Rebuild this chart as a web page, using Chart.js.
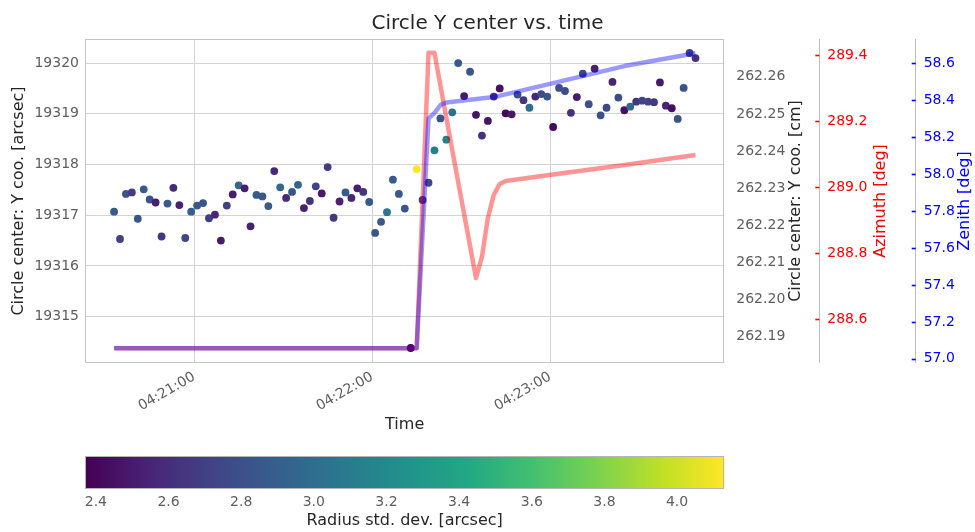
<!DOCTYPE html>
<html>
<head>
<meta charset="utf-8">
<title>Circle Y center vs. time</title>
<script src="https://cdn.jsdelivr.net/npm/chart.js@4.4.1/dist/chart.umd.min.js"></script>
<style>
  html, body { margin: 0; padding: 0; background: #fff; }
  #wrap { width: 975px; height: 532px; }
  canvas { display: block; }
</style>
</head>
<body>
<div id="wrap">
  <canvas id="mainChart" width="975" height="440"></canvas>
  <canvas id="cbarChart" width="975" height="92"></canvas>
</div>
<script>
// circle fits, one every 2 s
const times = [
  '04:20:33','04:20:35','04:20:37','04:20:39','04:20:41','04:20:43','04:20:45','04:20:47','04:20:49','04:20:51',
  '04:20:53','04:20:55','04:20:57','04:20:59',
  '04:21:01','04:21:03','04:21:05','04:21:07','04:21:09','04:21:11','04:21:13','04:21:15','04:21:17','04:21:19',
  '04:21:21','04:21:23','04:21:25','04:21:27','04:21:29','04:21:31','04:21:33','04:21:35','04:21:37','04:21:39',
  '04:21:41','04:21:43','04:21:45','04:21:47','04:21:49','04:21:51','04:21:53','04:21:55','04:21:57','04:21:59',
  '04:22:01','04:22:03','04:22:05','04:22:07','04:22:09','04:22:11','04:22:13','04:22:15','04:22:17','04:22:19',
  '04:22:21','04:22:23','04:22:25','04:22:27','04:22:29','04:22:31','04:22:33','04:22:35','04:22:37','04:22:39',
  '04:22:41','04:22:43','04:22:45','04:22:47','04:22:49','04:22:51','04:22:53','04:22:55','04:22:57','04:22:59',
  '04:23:01','04:23:03','04:23:05','04:23:07','04:23:09','04:23:11','04:23:13','04:23:15','04:23:17','04:23:19',
  '04:23:21','04:23:23','04:23:25','04:23:27','04:23:29','04:23:31','04:23:33','04:23:35','04:23:37','04:23:39',
  '04:23:41','04:23:43','04:23:45','04:23:47','04:23:49'
];

// circle center Y [arcsec]
const centerY = [
  19317.07, 19316.53, 19317.42, 19317.45, 19316.93, 19317.51, 19317.31, 19317.25, 19316.58, 19317.23,
  19317.54, 19317.20, 19316.55, 19317.07, 19317.19, 19317.24, 19316.94, 19317.01, 19316.50, 19317.19,
  19317.41, 19317.59, 19317.53, 19316.78, 19317.40, 19317.37, 19317.18, 19317.87, 19317.55, 19317.34,
  19317.46, 19317.60, 19317.14, 19317.28, 19317.57, 19317.43, 19317.95, 19316.95, 19317.27, 19317.45,
  19317.34, 19317.53, 19317.46, 19317.26, 19316.65, 19316.87, 19317.06, 19317.70, 19317.42, 19317.13,
  19314.38, 19317.91, 19317.30, 19317.64, 19318.28, 19318.91, 19318.49, 19319.03, 19320.00, 19319.35,
  19319.83, 19318.98, 19318.57, 19318.86, 19319.34, 19319.50, 19319.01, 19318.99, 19319.38, 19319.27,
  19319.12, 19319.34, 19319.39, 19319.34, 19318.74, 19319.51, 19319.45, 19319.02, 19319.33, 19319.79,
  19319.19, 19319.89, 19318.97, 19319.12, 19319.63, 19319.32, 19319.07, 19319.14, 19319.24, 19319.26,
  19319.24, 19319.23, 19319.62, 19319.16, 19319.11, 19318.90, 19319.51, 19320.20, 19320.10
];

// radius std. dev. [arcsec], used for the point colour
const radiusStd = [
  2.85, 2.70, 2.84, 2.68, 2.83, 2.88, 2.82, 2.52, 2.66, 2.86,
  2.58, 2.54, 2.72, 2.90, 2.86, 2.84, 2.69, 2.55, 2.50, 2.70,
  2.51, 2.95, 2.52, 2.53, 2.87, 2.85, 2.88, 2.57, 2.96, 2.58,
  2.82, 2.93, 2.53, 2.63, 2.72, 2.49, 2.67, 2.66, 2.53, 2.87,
  2.55, 2.52, 2.64, 2.86, 2.84, 2.86, 3.06, 2.86, 2.88, 2.83,
  2.37, 4.13, 2.66, 2.76, 3.10, 2.82, 3.12, 3.02, 2.86, 2.50,
  2.84, 2.46, 2.62, 2.47, 2.60, 2.45, 2.40, 2.48, 2.80, 2.64,
  3.00, 2.55, 2.78, 2.82, 2.41, 2.80, 2.78, 2.63, 2.50, 2.75,
  2.80, 2.52, 2.80, 2.76, 2.54, 2.78, 2.45, 2.98, 2.64, 2.72,
  2.72, 2.66, 2.50, 2.55, 2.44, 2.80, 2.82, 2.70, 2.62
];

// telescope pointing
const azTimes = ['04:20:33','04:22:15','04:22:19','04:22:21','04:22:23','04:22:25','04:22:27','04:22:29','04:22:31',
  '04:22:33','04:22:35','04:22:37','04:22:39','04:22:41','04:22:43','04:22:45','04:23:01','04:23:25','04:23:49'];
const azimuth = [288.512, 288.512, 289.408, 289.408, 289.309, 289.211, 289.113, 289.016, 288.919,
  288.822, 288.725, 288.789, 288.907, 288.977, 289.010, 289.019, 289.039, 289.068, 289.098];

const zenTimes = ['04:20:33','04:22:15','04:22:19','04:22:21','04:22:23','04:22:25','04:22:41','04:23:01','04:23:25','04:23:49'];
const zenith = [57.057, 57.057, 58.302, 58.331, 58.374, 58.388, 58.417, 58.493, 58.585, 58.654];

// axes
const timeRange = ['04:20:23.2', '04:23:58.7'];
const xTickLabels = ['04:21:00', '04:22:00', '04:23:00'];
const yTicks = [19315, 19316, 19317, 19318, 19319, 19320];
const cmTicks = [262.19, 262.20, 262.21, 262.22, 262.23, 262.24, 262.25, 262.26];
const azTicks = [288.6, 288.8, 289.0, 289.2, 289.4];
const zenTicks = [57.0, 57.2, 57.4, 57.6, 57.8, 58.0, 58.2, 58.4, 58.6];
const cbarTicks = [2.4, 2.6, 2.8, 3.0, 3.2, 3.4, 3.6, 3.8, 4.0];

const viridisStops = ['#440154', '#482475', '#414487', '#355f8d', '#2a788e', '#21918c',
  '#22a884', '#44bf70', '#7ad151', '#bddf26', '#fde725'];

function hexRgb(h) {
  return [parseInt(h.slice(1, 3), 16), parseInt(h.slice(3, 5), 16), parseInt(h.slice(5, 7), 16)];
}

function viridis(f) {
  f = Math.min(1, Math.max(0, f));
  const pos = f * (viridisStops.length - 1);
  const i = Math.min(Math.floor(pos), viridisStops.length - 2);
  const k = pos - i;
  const a = hexRgb(viridisStops[i]), b = hexRgb(viridisStops[i + 1]);
  const c = a.map((v, j) => Math.round(v + (b[j] - v) * k));
  return `rgb(${c[0]},${c[1]},${c[2]})`;
}

function toSec(s) {
  const p = s.split(':').map(Number);
  return p[0] * 3600 + p[1] * 60 + p[2];
}

function fmtTime(v) {
  const s = Math.round(v);
  const pad = n => String(n).padStart(2, '0');
  return `${pad(Math.floor(s / 3600))}:${pad(Math.floor(s / 60) % 60)}:${pad(s % 60)}`;
}

const cMin = Math.min(...radiusStd);
const cMax = Math.max(...radiusStd);

Chart.defaults.font.family = '"DejaVu Sans", sans-serif';
Chart.defaults.font.size = 14;

const GRID = '#d3d3d3';
const TICK_GRAY = '#5e5e5e';
const LABEL = '#262626';

// light frame round the plot area
const frame = {
  id: 'frame',
  beforeDatasetsDraw(chart) {
    const { ctx, chartArea: a } = chart;
    ctx.save();
    ctx.strokeStyle = '#c4c4c4';
    ctx.lineWidth = 1;
    ctx.strokeRect(Math.round(a.left) + 0.5, Math.round(a.top) + 0.5,
      Math.round(a.right - a.left) - 1, Math.round(a.bottom - a.top));
    ctx.restore();
  }
};

// short inward tick marks on the azimuth / zenith spines
const spineTicks = {
  id: 'spineTicks',
  afterDraw(chart) {
    const ctx = chart.ctx;
    ['yAz', 'yZen'].forEach(id => {
      const s = chart.scales[id];
      ctx.save();
      ctx.strokeStyle = s.options.ticks.color;
      ctx.lineWidth = 1.6;
      s.ticks.forEach(t => {
        const y = Math.round(s.getPixelForValue(t.value)) + 0.5;
        ctx.beginPath();
        ctx.moveTo(s.left - 4, y);
        ctx.lineTo(s.left, y);
        ctx.stroke();
      });
      ctx.restore();
    });
  }
};

// right-hand axis titles, reading bottom to top
const sideTitles = {
  id: 'sideTitles',
  afterDraw(chart, args, opts) {
    const { ctx, chartArea } = chart;
    const mid = (chartArea.top + chartArea.bottom) / 2;
    opts.items.forEach(it => {
      const s = chart.scales[it.axis];
      ctx.save();
      ctx.translate(s.right - it.inset, mid);
      ctx.rotate(-Math.PI / 2);
      ctx.font = '16px "DejaVu Sans", sans-serif';
      ctx.fillStyle = it.color;
      ctx.textAlign = 'center';
      ctx.textBaseline = 'middle';
      ctx.fillText(it.text, 0, 0);
      ctx.restore();
    });
  }
};

function fixedTicks(list) {
  return scale => { scale.ticks = list.map(v => ({ value: v })); };
}

new Chart(document.getElementById('mainChart'), {
  type: 'scatter',
  data: {
    datasets: [
      {
        label: 'Circle center Y',
        data: times.map((t, i) => ({ x: toSec(t), y: centerY[i] })),
        yAxisID: 'y',
        pointRadius: 3.9,
        pointBorderWidth: 0,
        pointBackgroundColor: radiusStd.map(v => viridis((v - cMin) / (cMax - cMin))),
        order: 3
      },
      {
        type: 'line',
        label: 'Azimuth',
        data: azTimes.map((t, i) => ({ x: toSec(t), y: azimuth[i] })),
        yAxisID: 'yAz',
        borderColor: 'rgba(255,0,0,0.42)',
        borderWidth: 4.5,
        pointRadius: 0,
        tension: 0,
        borderJoinStyle: 'round',
        order: 2
      },
      {
        type: 'line',
        label: 'Zenith',
        data: zenTimes.map((t, i) => ({ x: toSec(t), y: zenith[i] })),
        yAxisID: 'yZen',
        borderColor: 'rgba(0,0,255,0.4)',
        borderWidth: 4.5,
        pointRadius: 0,
        tension: 0,
        borderJoinStyle: 'round',
        order: 1
      }
    ]
  },
  options: {
    responsive: false,
    animation: false,
    devicePixelRatio: 1,
    layout: { padding: 0 },
    plugins: {
      legend: { display: false },
      tooltip: { enabled: false },
      title: {
        display: true,
        text: 'Circle Y center vs. time',
        color: LABEL,
        font: { size: 20, weight: 'normal' },
        padding: { top: 11.3, bottom: 4 }
      },
      sideTitles: {
        items: [
          { axis: 'yCm', text: 'Circle center: Y coo. [cm]', color: LABEL, inset: 23.5 },
          { axis: 'yAz', text: 'Azimuth [deg]', color: '#ff0000', inset: 34.7 },
          { axis: 'yZen', text: 'Zenith [deg]', color: '#0000ff', inset: 10 }
        ]
      }
    },
    scales: {
      x: {
        type: 'linear',
        min: toSec(timeRange[0]),
        max: toSec(timeRange[1]),
        afterBuildTicks: fixedTicks(xTickLabels.map(toSec)),
        afterFit: s => { s.height = 77.3; },
        grid: { color: GRID, drawTicks: false },
        border: { display: false },
        ticks: {
          color: TICK_GRAY,
          padding: 6,
          autoSkip: false,
          minRotation: 30,
          maxRotation: 30,
          callback: v => fmtTime(v)
        },
        title: { display: true, text: 'Time', color: LABEL, font: { size: 16 }, padding: { top: 0, bottom: 5.4 } }
      },
      y: {
        position: 'left',
        min: 19314.09,
        max: 19320.47,
        afterBuildTicks: fixedTicks(yTicks),
        afterFit: s => { s.width = 85; },
        grid: { color: GRID, drawTicks: false },
        border: { display: false },
        ticks: { color: TICK_GRAY, padding: 6, callback: v => String(v) },
        title: { display: true, text: 'Circle center: Y coo. [arcsec]', color: LABEL, font: { size: 16 }, padding: { top: 9, bottom: 0 } }
      },
      yCm: {
        position: 'right',
        weight: 1,
        min: 262.1830,
        max: 262.2701,
        afterBuildTicks: fixedTicks(cmTicks),
        afterFit: s => { s.width = 95; },
        grid: { display: false, drawTicks: false },
        border: { display: false },
        ticks: { color: TICK_GRAY, padding: 12, callback: v => v.toFixed(2) }
      },
      yAz: {
        position: 'right',
        weight: 2,
        min: 288.468,
        max: 289.449,
        afterBuildTicks: fixedTicks(azTicks),
        afterFit: s => { s.width = 96.4; },
        grid: { display: false, drawTicks: false },
        border: { display: true, color: '#bdbdbd', width: 1 },
        ticks: { color: '#ff0000', padding: 8, callback: v => v.toFixed(1) }
      },
      yZen: {
        position: 'right',
        weight: 3,
        min: 56.979,
        max: 58.730,
        afterBuildTicks: fixedTicks(zenTicks),
        afterFit: s => { s.width = 59.3; },
        grid: { display: false, drawTicks: false },
        border: { display: true, color: '#bdbdbd', width: 1 },
        ticks: { color: '#0000ff', padding: 8, callback: v => v.toFixed(1) }
      }
    }
  },
  plugins: [frame, spineTicks, sideTitles]
});

// colour bar, painted across the chart area of its own scale
const gradientBar = {
  id: 'gradientBar',
  beforeDatasetsDraw(chart) {
    const { ctx, chartArea: a } = chart;
    const g = ctx.createLinearGradient(a.left, 0, a.right, 0);
    viridisStops.forEach((c, i) => g.addColorStop(i / (viridisStops.length - 1), c));
    ctx.save();
    ctx.fillStyle = g;
    ctx.fillRect(a.left, a.top, a.right - a.left, a.bottom - a.top);
    ctx.strokeStyle = '#b5b5b5';
    ctx.lineWidth = 1;
    ctx.strokeRect(Math.round(a.left) + 0.5, Math.round(a.top) + 0.5,
      Math.round(a.right - a.left) - 1, Math.round(a.bottom - a.top));
    ctx.restore();
  }
};

new Chart(document.getElementById('cbarChart'), {
  type: 'scatter',
  data: { datasets: [] },
  options: {
    responsive: false,
    animation: false,
    devicePixelRatio: 1,
    layout: { padding: { left: 85, right: 250.7, top: 16, bottom: 0 } },
    plugins: { legend: { display: false }, tooltip: { enabled: false } },
    scales: {
      x: {
        type: 'linear',
        min: cMin,
        max: cMax,
        afterBuildTicks: fixedTicks(cbarTicks),
        afterFit: s => { s.height = 43.7; },
        grid: { display: false, drawTicks: false },
        border: { display: false },
        ticks: { color: TICK_GRAY, padding: 6, callback: v => v.toFixed(1) },
        title: { display: true, text: 'Radius std. dev. [arcsec]', color: LABEL, font: { size: 16 }, padding: { top: 0, bottom: 1.4 } }
      },
      y: { display: false, min: 0, max: 1 }
    }
  },
  plugins: [gradientBar]
});
</script>
</body>
</html>
